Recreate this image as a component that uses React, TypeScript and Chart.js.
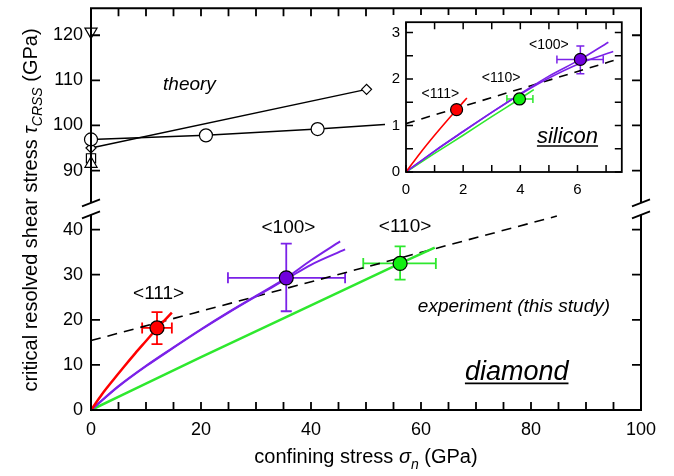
import React, { useEffect, useRef } from 'react';
import { Chart, registerables } from 'chart.js';

Chart.register(...registerables);

const FAMILY = '"Liberation Sans", Arial, Helvetica, sans-serif';

// ---------------- Diamond (main panel) ----------------
const diaOrient = ['<111>', '<100>', '<110>'];
const diaX = [12.0, 35.5, 56.2];
const diaY = [18.2, 29.3, 32.5];
const diaXErrLo = [2.7, 10.6, 6.7];
const diaXErrHi = [2.7, 10.7, 6.5];
const diaYErrLo = [3.6, 7.4, 3.6];
const diaYErrHi = [3.5, 7.6, 3.8];
const diaLabelX = [12.3, 35.9, 57.1];
const diaLabelY = [25.7, 40.4, 40.6];

const diaRedX = [0, 2, 4, 6, 8, 10, 12, 14.7];
const diaRedY = [0, 3.5, 6.6, 9.6, 12.5, 15.3, 18.1, 21.6];
const diaPurpleAX = [0, 5, 10, 15, 20, 25, 30, 35.5, 40, 45.3];
const diaPurpleAY = [0, 5.3, 9.8, 13.9, 17.9, 21.7, 25.3, 29.3, 33.2, 37.4];
const diaPurpleBX = [0, 5, 10, 15, 20, 25, 30, 35.5, 40, 46.2];
const diaPurpleBY = [0, 5.2, 9.7, 13.8, 17.8, 21.6, 25.2, 29.0, 32.2, 35.6];
const diaGreenX = [0, 20, 40, 56.2, 62.5];
const diaGreenY = [0, 11.7, 23.2, 32.5, 36.0];
const diaFitX = [0, 84.7];
const diaFitY = [15.4, 43.0];

// theory (upper broken part of the y axis)
const thCircX = [0, 20.9, 41.2, 61.5];
const thCircY = [96.9, 97.8, 99.2, 100.9];
const thDiamX = [0, 50.1];
const thDiamY = [95.0, 108.0];
const thDownTriX = [0];
const thDownTriY = [120.8];
const thSquareX = [0];
const thSquareY = [92.7];
const thUpTriX = [0];
const thUpTriY = [91.5];

// ---------------- Silicon (inset) ----------------
const siOrient = ['<111>', '<100>', '<110>'];
const siX = [1.77, 6.1, 3.97];
const siY = [1.34, 2.42, 1.57];
const siXErrLo = [0, 0.82, 0.44];
const siXErrHi = [0, 0.8, 0.47];
const siYErrLo = [0, 0.31, 0];
const siYErrHi = [0, 0.29, 0];
const siLabelX = [1.2, 5.0, 3.33];
const siLabelY = [1.67, 2.73, 2.02];

const siRedX = [0, 0.5, 1, 1.5, 1.77, 2.13];
const siRedY = [0, 0.41, 0.79, 1.15, 1.34, 1.59];
const siGreenX = [0, 1, 2, 3, 3.97, 4.47];
const siGreenY = [0, 0.4, 0.79, 1.19, 1.57, 1.77];
const siPurpleAX = [0, 1, 2, 3, 4, 5, 6.1, 7.08];
const siPurpleAY = [0, 0.45, 0.87, 1.28, 1.68, 2.06, 2.42, 2.79];
const siPurpleBX = [0, 1, 2, 3, 4, 5, 6.1, 7.25];
const siPurpleBY = [0, 0.45, 0.87, 1.28, 1.67, 2.02, 2.34, 2.59];
const siFitX = [0, 7.5];
const siFitY = [1.04, 2.44];

// axis ranges
const mainXRange = [0, 100];
const mainYLowRange = [0, 44.6];
const mainYHighRange = [81.5, 126];
const insetXRange = [0, 7.55];
const insetYRange = [0, 3.22];

const RED = '#ff0000';
const PURPLE_LINE = '#7b22e8';
const PURPLE_FILL = '#7000dd';
const GREEN_LINE = '#2ee82e';
const GREEN_FILL = '#10f010';

const zip = (xs: number[], ys: number[]) => xs.map((x, i) => ({ x, y: ys[i] }));

const curve = (data: any[], color: string, width: number, yAxisID: string, dash: number[] = []) => ({
  data,
  showLine: true,
  borderColor: color,
  borderWidth: width,
  borderDash: dash,
  pointRadius: 0,
  pointHoverRadius: 0,
  tension: 0.4,
  cubicInterpolationMode: 'monotone',
  yAxisID,
  clip: false,
});

const markers = (data: any[], style: string, radius: number, bg: any, yAxisID: string, rotation = 0, line = false) => ({
  data,
  showLine: line,
  borderColor: '#000',
  borderWidth: 1.5,
  pointStyle: style,
  pointRadius: radius,
  pointHoverRadius: radius,
  pointBackgroundColor: bg,
  pointBorderColor: '#000',
  pointBorderWidth: 1.2,
  pointRotation: rotation,
  yAxisID,
  clip: false,
});

function drawErrorBars(ctx: any, xs: any, ys: any, X: number[], Y: number[], xlo: number[], xhi: number[], ylo: number[], yhi: number[], colors: string[], cap: number, lw: number) {
  ctx.save();
  ctx.lineWidth = lw;
  X.forEach((v, i) => {
    const px = xs.getPixelForValue(v);
    const py = ys.getPixelForValue(Y[i]);
    ctx.strokeStyle = colors[i];
    ctx.beginPath();
    if (xlo[i] + xhi[i] > 0) {
      const x1 = xs.getPixelForValue(v - xlo[i]);
      const x2 = xs.getPixelForValue(v + xhi[i]);
      ctx.moveTo(x1, py); ctx.lineTo(x2, py);
      ctx.moveTo(x1, py - cap); ctx.lineTo(x1, py + cap);
      ctx.moveTo(x2, py - cap); ctx.lineTo(x2, py + cap);
    }
    if (ylo[i] + yhi[i] > 0) {
      const y1 = ys.getPixelForValue(Y[i] - ylo[i]);
      const y2 = ys.getPixelForValue(Y[i] + yhi[i]);
      ctx.moveTo(px, y1); ctx.lineTo(px, y2);
      ctx.moveTo(px - cap, y1); ctx.lineTo(px + cap, y1);
      ctx.moveTo(px - cap, y2); ctx.lineTo(px + cap, y2);
    }
    ctx.stroke();
  });
  ctx.restore();
}

function drawLabel(ctx: any, text: string, x: number, y: number, font: string, baseline = 'middle', underline = 0) {
  ctx.font = font;
  ctx.fillStyle = '#000';
  ctx.textAlign = 'center';
  ctx.textBaseline = baseline;
  ctx.fillText(text, x, y);
  if (underline) {
    const w = ctx.measureText(text).width;
    ctx.strokeStyle = '#000';
    ctx.lineWidth = underline;
    ctx.beginPath();
    ctx.moveTo(x - w / 2, y + 3.5);
    ctx.lineTo(x + w / 2, y + 3.5);
    ctx.stroke();
  }
}

function drawRich(ctx: any, parts: any[], cx: number, cy: number) {
  ctx.textAlign = 'left';
  ctx.textBaseline = 'alphabetic';
  ctx.fillStyle = '#000';
  let total = 0;
  parts.forEach((p) => { ctx.font = p.font; total += ctx.measureText(p.text).width; });
  let x = cx - total / 2;
  parts.forEach((p) => {
    ctx.font = p.font;
    ctx.fillText(p.text, x, cy + (p.dy || 0));
    x += ctx.measureText(p.text).width;
  });
}

const xTitleParts = [
  { text: 'confining stress ', font: `20px ${FAMILY}` },
  { text: 'σ', font: `italic 20px ${FAMILY}` },
  { text: 'n', font: `italic 14px ${FAMILY}`, dy: 6 },
  { text: ' (GPa)', font: `20px ${FAMILY}` },
];
const yTitleParts = [
  { text: 'critical resolved shear stress ', font: `20px ${FAMILY}` },
  { text: 'τ', font: `italic 20px ${FAMILY}` },
  { text: 'CRSS', font: `italic 14px ${FAMILY}`, dy: 5 },
  { text: ' (GPa)', font: `20px ${FAMILY}` },
];

const mainDecor = {
  id: 'mainDecor',
  beforeDatasetsDraw(chart: any) {
    const xs = chart.scales.x;
    const yl = chart.scales.y;
    drawErrorBars(chart.ctx, xs, yl, diaX, diaY, diaXErrLo, diaXErrHi, diaYErrLo, diaYErrHi, [RED, PURPLE_LINE, GREEN_LINE], 5.5, 1.8);
  },
  afterDraw(chart: any) {
    const ctx = chart.ctx;
    const { left, right, top, bottom } = chart.chartArea;
    const xs = chart.scales.x;
    const yl = chart.scales.y;
    const yu = chart.scales.y2;
    const brk = yl.getPixelForValue(yl.max);
    ctx.save();
    ctx.strokeStyle = '#000';
    ctx.lineWidth = 2;
    ctx.beginPath();
    ctx.moveTo(left - 1, top); ctx.lineTo(right + 1, top);
    ctx.moveTo(left - 1, bottom); ctx.lineTo(right + 1, bottom);
    [left, right].forEach((ex) => {
      ctx.moveTo(ex, top); ctx.lineTo(ex, brk - 6);
      ctx.moveTo(ex, brk + 6); ctx.lineTo(ex, bottom);
    });
    ctx.stroke();
    ctx.lineWidth = 1.8;
    ctx.beginPath();
    [left, right].forEach((ex) => [brk - 6, brk + 6].forEach((c) => {
      ctx.moveTo(ex - 9, c + 3.5); ctx.lineTo(ex + 9, c - 3.5);
    }));
    // ticks (inward)
    xs.ticks.forEach((t: any) => {
      const p = xs.getPixelForValue(t.value);
      ctx.moveTo(p, bottom); ctx.lineTo(p, bottom - 8);
      ctx.moveTo(p, top); ctx.lineTo(p, top + 8);
    });
    [yl, yu].forEach((sc) => sc.ticks.forEach((t: any) => {
      const p = sc.getPixelForValue(t.value);
      ctx.moveTo(left, p); ctx.lineTo(left + 9, p);
      ctx.moveTo(right, p); ctx.lineTo(right - 9, p);
    }));
    ctx.stroke();

    // annotations
    diaOrient.forEach((s, i) => drawLabel(ctx, s, xs.getPixelForValue(diaLabelX[i]), yl.getPixelForValue(diaLabelY[i]), `19px ${FAMILY}`));
    drawLabel(ctx, 'theory', xs.getPixelForValue(17.9), yu.getPixelForValue(109.1), `italic 19px ${FAMILY}`);
    drawLabel(ctx, 'experiment (this study)', xs.getPixelForValue(76.9), yl.getPixelForValue(23.0), `italic 19px ${FAMILY}`);
    drawLabel(ctx, 'diamond', xs.getPixelForValue(77.4), yl.getPixelForValue(6.7), `italic 27px ${FAMILY}`, 'alphabetic', 1.8);

    // axis titles
    drawRich(ctx, xTitleParts, (left + right) / 2, 463);
    ctx.save();
    ctx.translate(37, 210);
    ctx.rotate(-Math.PI / 2);
    drawRich(ctx, yTitleParts, 0, 0);
    ctx.restore();
    ctx.restore();
  },
};

const insetDecor = {
  id: 'insetDecor',
  beforeDatasetsDraw(chart: any) {
    drawErrorBars(chart.ctx, chart.scales.x, chart.scales.y, siX, siY, siXErrLo, siXErrHi, siYErrLo, siYErrHi, [RED, PURPLE_LINE, GREEN_LINE], 4, 1.5);
  },
  afterDraw(chart: any) {
    const ctx = chart.ctx;
    const { left, right, top, bottom } = chart.chartArea;
    const xs = chart.scales.x;
    const ys = chart.scales.y;
    ctx.save();
    ctx.strokeStyle = '#000';
    ctx.lineWidth = 1.8;
    ctx.strokeRect(left, top, right - left, bottom - top);
    ctx.lineWidth = 1.5;
    ctx.beginPath();
    xs.ticks.forEach((t: any) => {
      const p = xs.getPixelForValue(t.value);
      ctx.moveTo(p, bottom); ctx.lineTo(p, bottom - 7);
      ctx.moveTo(p, top); ctx.lineTo(p, top + 7);
    });
    ys.ticks.forEach((t: any) => {
      const p = ys.getPixelForValue(t.value);
      ctx.moveTo(left, p); ctx.lineTo(left + 7, p);
      ctx.moveTo(right, p); ctx.lineTo(right - 7, p);
    });
    ctx.stroke();
    siOrient.forEach((s, i) => drawLabel(ctx, s, xs.getPixelForValue(siLabelX[i]), ys.getPixelForValue(siLabelY[i]), `14px ${FAMILY}`));
    drawLabel(ctx, 'silicon', xs.getPixelForValue(5.65), ys.getPixelForValue(0.634), `italic 22px ${FAMILY}`, 'alphabetic', 1.5);
    ctx.restore();
  },
};

const tickFont = (size: number) => ({ family: FAMILY, size });
const noGrid = { display: false, drawTicks: false };

const fitX = (h: number) => (s: any) => {
  s.height = h;
  s.paddingLeft = 0;
  s.paddingRight = 0;
  s.paddingTop = 0;
  s.paddingBottom = 0;
};
const fitY = (w: number) => (s: any) => {
  s.width = w;
  s.paddingTop = 0;
  s.paddingBottom = 0;
  s.paddingLeft = 0;
  s.paddingRight = 0;
};

function mainConfig(): any {
  return {
    type: 'scatter',
    data: {
      datasets: [
        markers(zip(diaX, diaY), 'circle', 7, [RED, PURPLE_FILL, GREEN_FILL], 'y'),
        markers(zip(thCircX, thCircY), 'circle', 6.5, '#fff', 'y2', 0, true),
        markers(zip(thDiamX, thDiamY), 'rectRot', 5, '#fff', 'y2', 0, true),
        markers(zip(thDownTriX, thDownTriY), 'triangle', 7, '#fff', 'y2', 180),
        markers(zip(thUpTriX, thUpTriY), 'triangle', 7, '#fff', 'y2'),
        markers(zip(thSquareX, thSquareY), 'rect', 6.5, '#fff', 'y2'),
        curve(zip(diaRedX, diaRedY), RED, 2.5, 'y'),
        curve(zip(diaPurpleAX, diaPurpleAY), PURPLE_LINE, 2, 'y'),
        curve(zip(diaPurpleBX, diaPurpleBY), PURPLE_LINE, 2, 'y'),
        curve(zip(diaGreenX, diaGreenY), GREEN_LINE, 2.5, 'y'),
        curve(zip(diaFitX, diaFitY), '#000', 1.6, 'y', [10, 7]),
      ],
    },
    options: {
      responsive: false,
      animation: false,
      events: [],
      layout: { padding: { top: 5, right: 33, left: 0, bottom: 0 } },
      plugins: { legend: { display: false }, tooltip: { enabled: false } },
      scales: {
        x: {
          type: 'linear',
          min: mainXRange[0],
          max: mainXRange[1],
          grid: noGrid,
          border: { display: false },
          ticks: {
            stepSize: 5,
            autoSkip: false,
            maxRotation: 0,
            includeBounds: false,
            padding: 9,
            color: '#000',
            font: tickFont(18),
            callback: (v: number) => (v % 20 === 0 ? String(v) : ''),
          },
          afterFit: fitX(66),
        },
        y: {
          type: 'linear',
          position: 'left',
          stack: 'yaxis',
          stackWeight: mainYLowRange[1] - mainYLowRange[0],
          weight: 1,
          min: mainYLowRange[0],
          max: mainYLowRange[1],
          grid: noGrid,
          border: { display: false },
          ticks: { stepSize: 10, includeBounds: false, padding: 8, color: '#000', font: tickFont(18) },
          afterFit: fitY(91),
        },
        y2: {
          type: 'linear',
          position: 'left',
          stack: 'yaxis',
          stackWeight: mainYHighRange[1] - mainYHighRange[0],
          weight: 2,
          min: mainYHighRange[0],
          max: mainYHighRange[1],
          grid: noGrid,
          border: { display: false },
          ticks: { stepSize: 10, includeBounds: false, padding: 8, color: '#000', font: tickFont(18) },
          afterFit: fitY(91),
        },
      },
    },
    plugins: [mainDecor],
  };
}

function insetConfig(): any {
  return {
    type: 'scatter',
    data: {
      datasets: [
        markers(zip(siX, siY), 'circle', 6, [RED, PURPLE_FILL, GREEN_FILL], 'y'),
        curve(zip(siRedX, siRedY), RED, 1.6, 'y'),
        curve(zip(siPurpleAX, siPurpleAY), PURPLE_LINE, 1.6, 'y'),
        curve(zip(siPurpleBX, siPurpleBY), PURPLE_LINE, 1.6, 'y'),
        curve(zip(siGreenX, siGreenY), GREEN_LINE, 1.6, 'y'),
        curve(zip(siFitX, siFitY), '#000', 1.6, 'y', [9, 7]),
      ],
    },
    options: {
      responsive: false,
      animation: false,
      events: [],
      layout: { padding: { top: 5, right: 2, left: 0, bottom: 0 } },
      plugins: { legend: { display: false }, tooltip: { enabled: false } },
      scales: {
        x: {
          type: 'linear',
          min: insetXRange[0],
          max: insetXRange[1],
          grid: noGrid,
          border: { display: false },
          ticks: {
            stepSize: 1,
            autoSkip: false,
            maxRotation: 0,
            includeBounds: false,
            padding: 9,
            color: '#000',
            font: tickFont(15),
            callback: (v: number) => (v % 2 === 0 ? String(v) : ''),
          },
          afterFit: fitX(26),
        },
        y: {
          type: 'linear',
          min: insetYRange[0],
          max: insetYRange[1],
          grid: noGrid,
          border: { display: false },
          ticks: {
            stepSize: 0.5,
            autoSkip: false,
            includeBounds: false,
            padding: 6,
            color: '#000',
            font: tickFont(15),
            callback: (v: number) => (Number.isInteger(v) ? String(v) : ''),
          },
          afterFit: fitY(21),
        },
      },
    },
    plugins: [insetDecor],
  };
}

export default function App() {
  const mainRef = useRef<HTMLCanvasElement>(null);
  const insetRef = useRef<HTMLCanvasElement>(null);
  useEffect(() => {
    const main = new Chart(mainRef.current as HTMLCanvasElement, mainConfig());
    const inset = new Chart(insetRef.current as HTMLCanvasElement, insetConfig());
    return () => {
      main.destroy();
      inset.destroy();
    };
  }, []);
  return (
    <div style={{ position: 'absolute', left: 0, top: 0, width: 674, height: 476, background: '#fff' }}>
      <canvas ref={mainRef} width={674} height={476} style={{ position: 'absolute', left: 0, top: 0 }} />
      <canvas ref={insetRef} width={244} height={183} style={{ position: 'absolute', left: 385, top: 15, background: '#fff' }} />
    </div>
  );
}
